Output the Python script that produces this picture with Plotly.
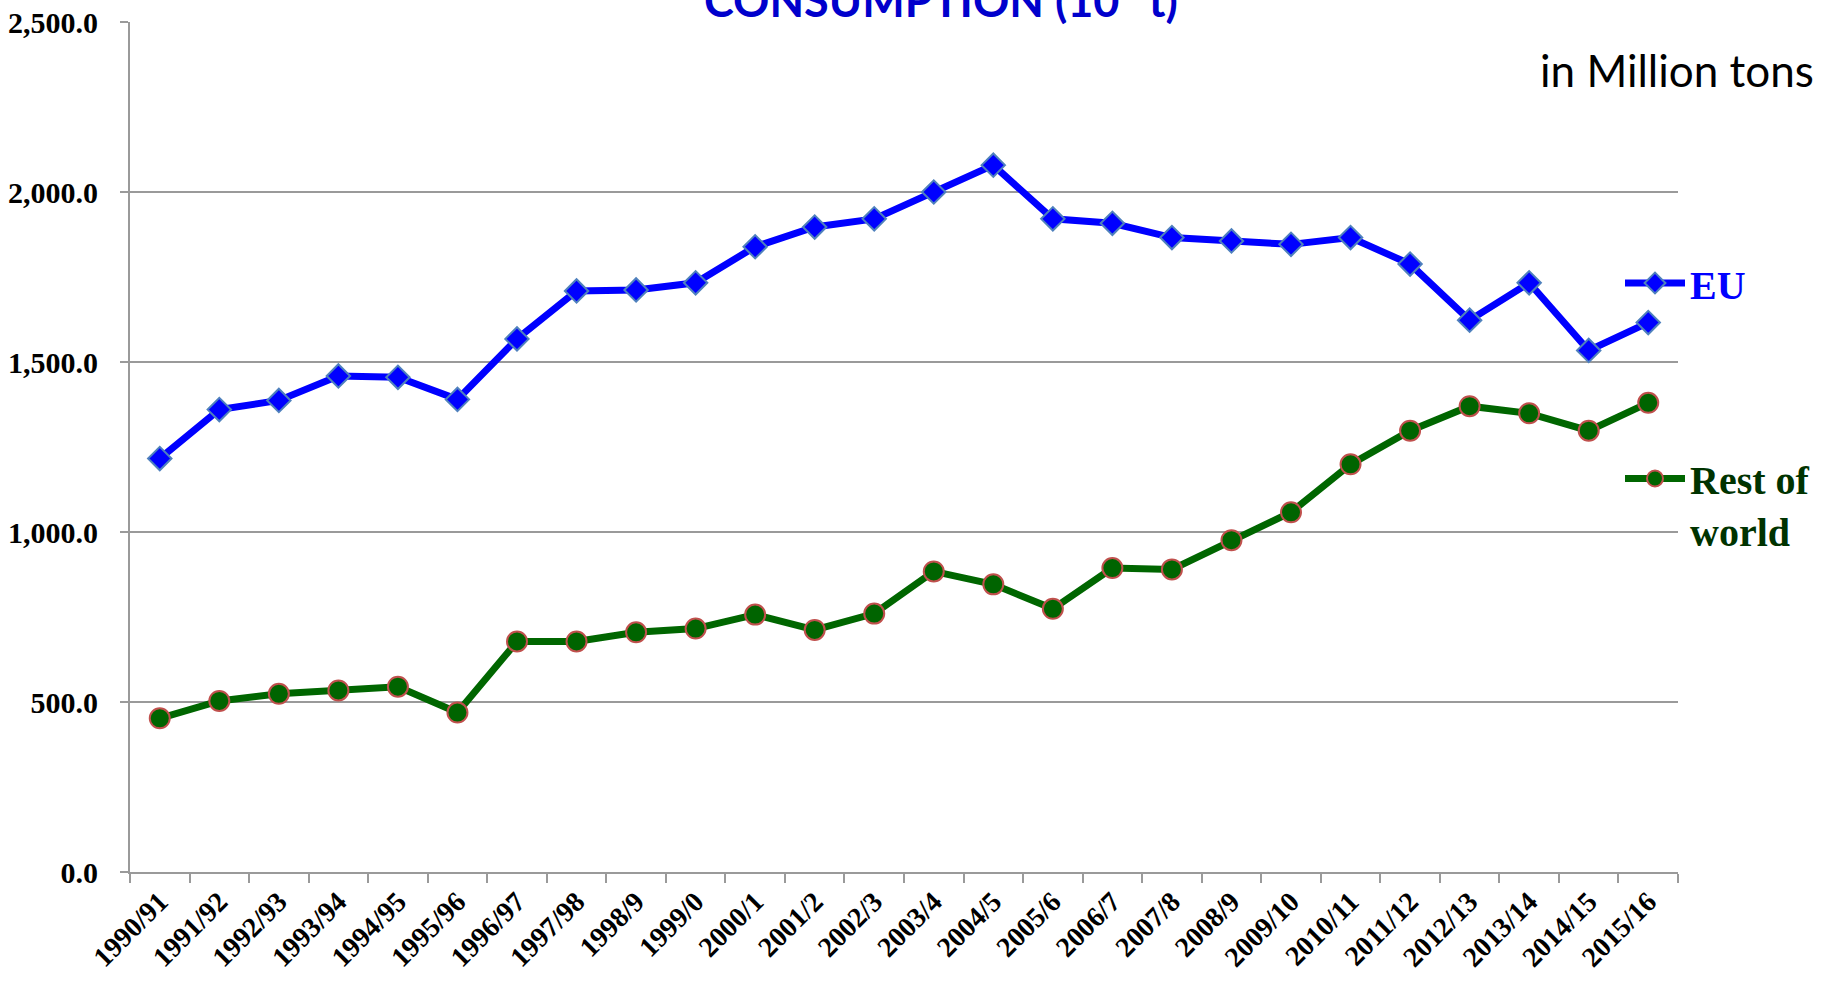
import plotly.graph_objects as go

seasons = ["1990/91", "1991/92", "1992/93", "1993/94", "1994/95", "1995/96", "1996/97",
           "1997/98", "1998/9", "1999/0", "2000/1", "2001/2", "2002/3", "2003/4", "2004/5",
           "2005/6", "2006/7", "2007/8", "2008/9", "2009/10", "2010/11", "2011/12",
           "2012/13", "2013/14", "2014/15", "2015/16"]

eu = [1216, 1360, 1387, 1459, 1455, 1390, 1568, 1709, 1712, 1733, 1839, 1897, 1921,
      2000, 2079, 1921, 1908, 1866, 1856, 1846, 1866, 1788, 1623, 1733, 1534, 1616]

rest_of_world = [452, 503, 524, 534, 545, 469, 678, 678, 705, 716, 757, 712, 760,
                 884, 846, 774, 894, 890, 976, 1058, 1199, 1298, 1370, 1349, 1298, 1380]

W, H = 1826, 987
L, R, T, B = 130, 148, 22, 115
plot_w = W - L - R
plot_h = H - T - B

def px_x(px):
    return (px - L) / plot_w

def px_y(py):
    return (H - B - py) / plot_h

fig = go.Figure()
fig.add_trace(go.Scatter(
    x=seasons, y=eu, mode="lines+markers", name="EU",
    line=dict(color="#0000FF", width=7),
    marker=dict(symbol="diamond", size=18, color="#0000FF",
                line=dict(color="#4F81BD", width=2)),
    legend="legend",
))
fig.add_trace(go.Scatter(
    x=seasons, y=rest_of_world, mode="lines+markers", name="Rest of<br>world",
    line=dict(color="#006600", width=7),
    marker=dict(symbol="circle", size=20, color="#006400",
                line=dict(color="#C0504D", width=2)),
    legend="legend2",
))

serif = "Liberation Serif"
grid = "#9A9A9A"

fig.update_layout(
    width=W, height=H,
    margin=dict(l=L, r=R, t=T, b=B, autoexpand=False),
    paper_bgcolor="white", plot_bgcolor="white",
    showlegend=True,
    legend=dict(x=px_x(1620), y=px_y(283), xanchor="left", yanchor="middle",
                bgcolor="rgba(0,0,0,0)", itemwidth=60,
                font=dict(family=serif, size=40, color="#0000FF", weight="bold")),
    legend2=dict(x=px_x(1620), y=px_y(446), xanchor="left", yanchor="top",
                 valign="top", bgcolor="rgba(0,0,0,0)", itemwidth=60,
                 font=dict(family=serif, size=40, color="#003300", weight="bold")),
    xaxis=dict(
        type="category", showgrid=False, showline=True, linecolor=grid, linewidth=2,
        ticks="outside", tickson="boundaries", ticklen=9, tickcolor=grid, tickwidth=2,
        tickangle=-45, automargin=False,
        tickfont=dict(family=serif, size=28, color="black", weight="bold"),
        range=[-0.5, len(seasons) - 0.5],
    ),
    yaxis=dict(
        range=[0, 2500], dtick=500, tickformat=",.1f", showgrid=True, gridcolor=grid,
        gridwidth=2, showline=True, linecolor=grid, linewidth=2, zeroline=False,
        ticks="outside", ticklen=8, tickcolor=grid, tickwidth=2, automargin=False,
        ticklabelstandoff=16,
        tickfont=dict(family=serif, size=30, color="black", weight="bold"),
    ),
    annotations=[
        dict(text="CONSUMPTION (10<sup>3</sup> t)", xref="paper", yref="paper",
             x=px_x(941), y=1, xanchor="center", yanchor="bottom", yshift=-7,
             showarrow=False,
             font=dict(family="Lato", size=45, color="#0000CC", weight="bold")),
        dict(text="in Million tons", xref="paper", yref="paper",
             x=px_x(1538), y=px_y(70), xanchor="left", yanchor="middle", showarrow=False,
             font=dict(family="Lato", size=44, color="black")),
    ],
)

fig.write_html("out.html", config={"displayModeBar": False},
               post_script="document.body.style.margin='0px';")
